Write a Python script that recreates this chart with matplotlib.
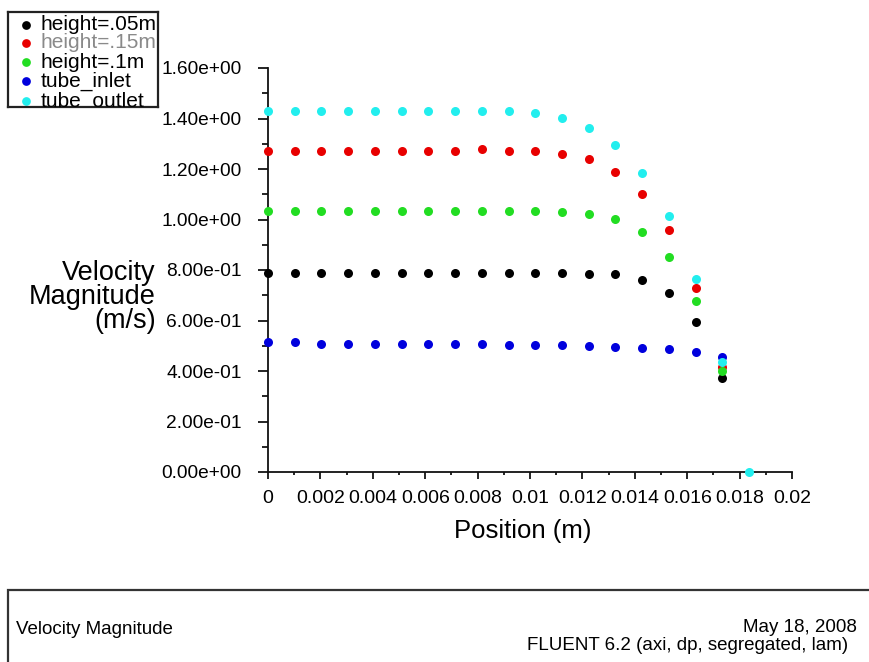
import matplotlib
matplotlib.use("Agg")
import matplotlib.pyplot as plt
from matplotlib.ticker import MultipleLocator, FixedLocator
from matplotlib.patches import Rectangle

plt.rcParams['font.family'] = ['Liberation Sans', 'DejaVu Sans']

# Radial positions (m)
position = [0.0, 0.00102, 0.00204, 0.00306, 0.00408, 0.0051, 0.00612, 0.00714,
            0.00816, 0.00918, 0.0102, 0.01122, 0.01224, 0.01326, 0.01428,
            0.0153, 0.01632, 0.01734]
position_outlet = position + [0.01836]

# Velocity magnitude (m/s)
h05 = [0.787, 0.787, 0.787, 0.787, 0.787, 0.787, 0.787, 0.787, 0.787, 0.787,
       0.787, 0.787, 0.786, 0.783, 0.759, 0.710, 0.594, 0.371]
h15 = [1.271, 1.271, 1.271, 1.271, 1.271, 1.271, 1.271, 1.271, 1.278, 1.271,
       1.271, 1.259, 1.238, 1.189, 1.100, 0.958, 0.730, 0.415]
h1 = [1.034, 1.034, 1.034, 1.034, 1.034, 1.034, 1.034, 1.034, 1.034, 1.034,
      1.034, 1.028, 1.022, 1.002, 0.950, 0.853, 0.677, 0.401]
inlet = [0.514, 0.514, 0.508, 0.508, 0.508, 0.508, 0.508, 0.508, 0.508, 0.503,
         0.503, 0.503, 0.499, 0.494, 0.493, 0.488, 0.476, 0.457]
outlet = [1.430, 1.430, 1.430, 1.430, 1.430, 1.430, 1.430, 1.430, 1.430, 1.430,
          1.420, 1.403, 1.364, 1.295, 1.183, 1.014, 0.764, 0.434, 0.0]

labels = ["height=.05m", "height=.15m", "height=.1m", "tube_inlet", "tube_outlet"]
colors = ["#000000", "#e80000", "#22dd22", "#0000dd", "#22eeee"]
label_colors = ["#000000", "#8a8a8a", "#000000", "#000000", "#000000"]

xticks = [0, 0.002, 0.004, 0.006, 0.008, 0.01, 0.012, 0.014, 0.016, 0.018, 0.02]
xticklabels = ["0", "0.002", "0.004", "0.006", "0.008", "0.01", "0.012", "0.014",
               "0.016", "0.018", "0.02"]
yticks = [0, 0.2, 0.4, 0.6, 0.8, 1.0, 1.2, 1.4, 1.6]
yticklabels = ["0.00e+00", "2.00e-01", "4.00e-01", "6.00e-01", "8.00e-01",
               "1.00e+00", "1.20e+00", "1.40e+00", "1.60e+00"]

W, H = 869, 662
fig = plt.figure(figsize=(W / 100, H / 100), dpi=100)

def fx(px):
    return px / W

def fy(py):
    return 1 - py / H

ax = fig.add_axes([fx(268), fy(472), fx(792) - fx(268), fy(68) - fy(472)])
series = [(position, h05), (position, h15), (position, h1), (position, inlet),
          (position_outlet, outlet)]
for (xs, ys), c in zip(series, colors):
    ax.plot(xs, ys, linestyle='none', marker='o', markersize=6.5, color=c,
            markeredgewidth=0, clip_on=False, zorder=3)

ax.set_xlim(0, 0.02)
ax.set_ylim(0, 1.6)
for s in ['top', 'right']:
    ax.spines[s].set_visible(False)
for s in ['left', 'bottom']:
    ax.spines[s].set_linewidth(1.3)
    ax.spines[s].set_color('#111111')

ax.xaxis.set_major_locator(FixedLocator(xticks))
ax.set_xticklabels(xticklabels, fontsize=14)
ax.xaxis.set_minor_locator(MultipleLocator(0.001))
ax.yaxis.set_major_locator(FixedLocator(yticks))
ax.set_yticklabels(yticklabels, fontsize=13.8)
ax.yaxis.set_minor_locator(MultipleLocator(0.1))
ax.tick_params(axis='x', which='major', direction='out', length=5, width=1.2, pad=8)
ax.tick_params(axis='x', which='minor', direction='out', length=2.5, width=1.2)
ax.tick_params(axis='y', which='major', direction='out', length=7, width=1.2, pad=12)
ax.tick_params(axis='y', which='minor', direction='out', length=4.5, width=1.2)

fig.text(fx(523), fy(531), "Position (m)", fontsize=18.5, ha='center', va='center')
fig.text(fx(156), fy(297), "Velocity\nMagnitude\n(m/s)", fontsize=19.5,
         ha='right', va='center', multialignment='right', linespacing=0.88)

# Legend box (manual, clipped like the original)
lax = fig.add_axes([fx(8), fy(107), fx(158) - fx(8), fy(12) - fy(107)])
lax.set_xlim(0, 1)
lax.set_ylim(0, 1)
lax.set_xticks([])
lax.set_yticks([])
for s in lax.spines.values():
    s.set_linewidth(1.6)
    s.set_color('#222222')
row_px = [25, 43, 62, 81, 101]
for rp, lab, c, tc in zip(row_px, labels, colors, label_colors):
    yy = 1 - (rp - 12) / 95
    lax.plot([0.12], [yy], marker='o', markersize=6.3, color=c, markeredgewidth=0,
             linestyle='none')
    lax.text(0.215, yy, lab, fontsize=15, color=tc, ha='left', va='center',
             clip_on=True)

# Bottom info box
fig.patches.append(Rectangle((fx(8), fy(700)), fx(900) - fx(8), fy(590) - fy(700),
                             transform=fig.transFigure, fill=False,
                             edgecolor='#333333', linewidth=1.6))
fig.text(fx(16), fy(630), "Velocity Magnitude", fontsize=13.5, ha='left', va='center')
fig.text(fx(857), fy(628), "May 18, 2008", fontsize=13.5, ha='right', va='center')
fig.text(fx(848), fy(646), "FLUENT 6.2 (axi, dp, segregated, lam)", fontsize=13.5,
         ha='right', va='center')

fig.savefig("out.png", dpi=100)
